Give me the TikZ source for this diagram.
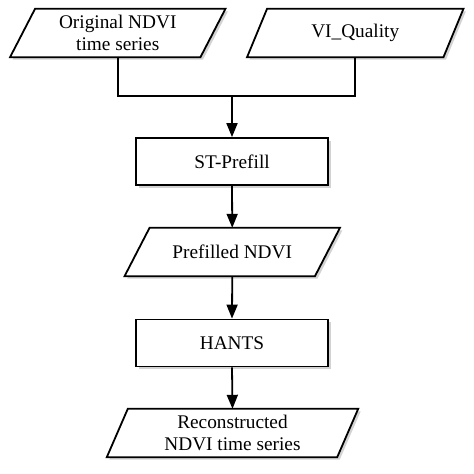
\documentclass[tikz,border=0pt]{standalone}
\usepackage{fontspec}
\setmainfont{Liberation Serif}
\usetikzlibrary{arrows.meta,shadows}
\tikzset{
  base/.style={inner sep=0pt, align=center, font=\fontsize{19.3}{22}\selectfont},
  procbox/.style={base, draw, line width=1.8pt, fill=white, minimum width=192pt, minimum height=47pt,
    drop shadow={opacity=0.35, shadow xshift=2.5pt, shadow yshift=-2.5pt}},
  databox/.style={base, minimum height=48pt},
  paraline/.style={draw, line width=1.8pt, fill=white, line join=miter,
    drop shadow={opacity=0.35, shadow xshift=2.5pt, shadow yshift=-2.5pt}},
  conn/.style={line width=1.8pt},
  arr/.style={line width=1.8pt, -{Triangle[length=14pt,width=11pt]}}
}
\newcommand{\paradraw}[2]{%
  \path[paraline] ([xshift=#2]#1.north west) -- ([xshift=#2]#1.north east)
    -- ([xshift=-#2]#1.south east) -- ([xshift=-#2]#1.south west) -- cycle;}
\begin{document}
\begin{tikzpicture}[x=1pt,y=-1pt]
\useasboundingbox (0,0) rectangle (474,474);
% data nodes (parallelograms drawn around them)
\path (117.75,33) node[databox, minimum width=190pt] (orig) {};
\path (355.25,33) node[databox, minimum width=196pt] (vi) {};
\path (232.25,252) node[databox, minimum width=190pt] (pre) {};
\path (232.5,433) node[databox, minimum width=230pt] (rec) {};
\paradraw{orig}{12.5pt}
\paradraw{vi}{10pt}
\paradraw{pre}{12.5pt}
\paradraw{rec}{10.5pt}
\node[base] at (orig) {Original NDVI\\time series};
\node[base] at (vi) {VI\_Quality};
\node[base] at (pre) {Prefilled NDVI};
\node[base] at (rec) {Reconstructed\\NDVI time series};
% process nodes
\node[procbox] (st) at (232,161.5) {ST-Prefill};
\node[procbox] (hants) at (232,343) {HANTS};
% connectors
\coordinate (j) at (232,96);
\draw[conn] (orig.south) -- (orig.south |- j) -- (vi.south |- j) -- (vi.south);
\draw[arr] (j) -- (st.north);
\draw[arr] (st.south) -- (pre.north);
\draw[arr] (pre.south) -- (hants.north);
\draw[arr] (hants.south) -- (rec.north);
\end{tikzpicture}
\end{document}
